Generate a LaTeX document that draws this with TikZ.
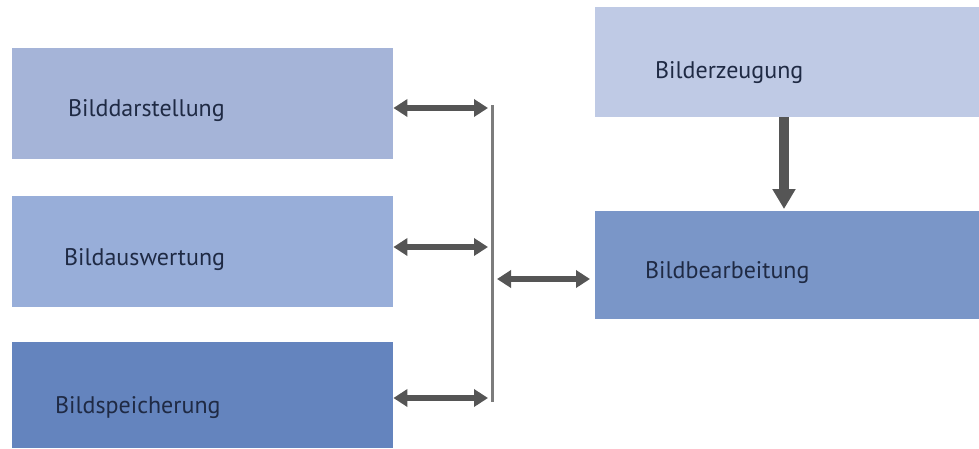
\documentclass[tikz,border=0pt]{standalone}
\usepackage{fontspec}
\setmainfont{PT Sans}
\usetikzlibrary{arrows.meta}
\definecolor{boxA}{HTML}{A5B4D8}
\definecolor{boxB}{HTML}{98AED9}
\definecolor{boxC}{HTML}{6484BE}
\definecolor{boxD}{HTML}{BFCAE5}
\definecolor{boxE}{HTML}{7A96C8}
\definecolor{txt}{HTML}{1F2A44}
\definecolor{arr}{HTML}{555555}
\definecolor{bus}{HTML}{7C7C7C}
\tikzset{
  box/.style={draw=none, anchor=north west, align=left, inner ysep=0pt,
    text=txt, text depth=0pt, font=\fontsize{24}{28}\selectfont},
  twoway/.style={draw=arr, line width=6pt,
    {Triangle[width=17pt,length=14pt]}-{Triangle[width=17pt,length=14pt]}},
  oneway/.style={draw=arr, line width=10pt,
    -{Triangle[width=22pt,length=20pt]}},
  busline/.style={draw=bus, line width=3pt}
}
\begin{document}
\begin{tikzpicture}[x=1pt,y=-1pt]
\useasboundingbox (0,0) rectangle (979,448);
% left column
\node[box, fill=boxA, minimum height=111pt, text height=25pt, text width=269pt, inner xsep=56pt] (A) at (12,48) {Bilddarstellung};
\node[box, fill=boxB, minimum height=111pt, text height=27pt, text width=277pt, inner xsep=52pt] (B) at (12,196) {Bildauswertung};
\node[box, fill=boxC, minimum height=106pt, text height=36pt, text width=295pt, inner xsep=43pt] (C) at (12,342) {Bildspeicherung};
% right column
\node[box, fill=boxD, minimum height=110pt, text height=32pt, text width=264pt, inner xsep=60pt] (D) at (595,7) {Bilderzeugung};
\node[box, fill=boxE, minimum height=108pt, text height=26pt, text width=284pt, inner xsep=50pt] (E) at (595,211) {Bildbearbeitung};
% bus
\coordinate (busT) at (492,105);
\coordinate (busB) at (492,402);
\draw[busline] (busT) -- (busB);
% links to the bus
\coordinate (a1) at (488,108);
\coordinate (a2) at (488,247);
\coordinate (a3) at (488,398);
\draw[twoway] (a1 -| A.east) -- (a1);
\draw[twoway] (a2 -| B.east) -- (a2);
\draw[twoway] (a3 -| C.east) -- (a3);
\coordinate (m) at (497,279);
\draw[twoway, shorten >=5pt] (m) -- (m -| E.west);
% generation feeds processing
\coordinate (d) at (784,0);
\draw[oneway, shorten >=2pt] (d |- D.south) -- (d |- E.north);
\end{tikzpicture}
\end{document}
